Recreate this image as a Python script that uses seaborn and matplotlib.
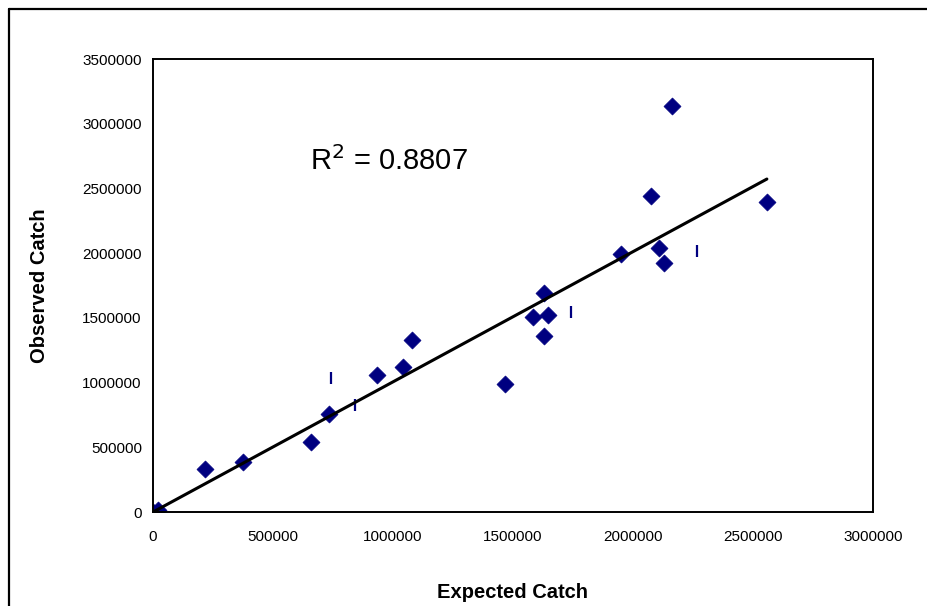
import numpy as np
import pandas as pd
import matplotlib
matplotlib.use("Agg")
import matplotlib.pyplot as plt
import seaborn as sns

# diamond series: expected vs observed catch
expected = [0, 20000, 216000, 375000, 658000, 733000, 933000, 1042000, 1079000,
            1467000, 1583000, 1629000, 1629000, 1646000, 1950000, 2075000,
            2108000, 2129000, 2163000, 2558000]
observed = [0, 15000, 332000, 386000, 541000, 757000, 1058000, 1120000, 1329000,
            989000, 1507000, 1692000, 1360000, 1522000, 1993000, 2441000,
            2040000, 1924000, 3137000, 2395000]

# points shown as small vertical dashes
dash_x = [742000, 842000, 1742000, 2267000]
dash_y = [1035000, 827000, 1545000, 2017000]

r2_label = "R$^2$ = 0.8807"

df = pd.DataFrame({"Expected Catch": expected, "Observed Catch": observed})

# linear trend through the origin over all points, drawn across the data range
x = np.array(expected + dash_x, dtype=float)
y = np.array(observed + dash_y, dtype=float)
slope = (x * y).sum() / (x * x).sum()
trend = pd.DataFrame({"x": [x.min(), x.max()]})
trend["y"] = slope * trend["x"]

sns.set_style("white")
plt.rcParams["font.family"] = ["Liberation Sans", "DejaVu Sans"]
plt.rcParams["text.color"] = "black"
plt.rcParams["axes.labelcolor"] = "black"

fig = plt.figure(figsize=(9.27, 6.06), dpi=100)
ax = fig.add_axes([0.165, 0.155, 0.7767, 0.7475])

sns.lineplot(data=trend, x="x", y="y", color="black", linewidth=2.2, ax=ax, zorder=3)
sns.scatterplot(data=df, x="Expected Catch", y="Observed Catch", marker="D", s=75,
                color="#000080", edgecolor="#000080", linewidth=0.5, ax=ax, zorder=2)
ax.plot(dash_x, dash_y, linestyle="none", marker="|", markersize=8,
        markeredgewidth=1.6, color="#000080", zorder=2)

ax.set_xlim(0, 3000000)
ax.set_ylim(0, 3500000)
ax.set_xticks(np.arange(0, 3000001, 500000))
ax.set_yticks(np.arange(0, 3500001, 500000))
ax.set_xticklabels([f"{int(v)}" for v in ax.get_xticks()])
ax.set_yticklabels([f"{int(v)}" for v in ax.get_yticks()])
ax.tick_params(axis="both", direction="out", length=5, width=1.3, labelsize=11,
               colors="black", labelcolor="black")
ax.tick_params(axis="x", pad=8)
ax.tick_params(axis="y", pad=3)
for side in ax.spines.values():
    side.set_color("black")
    side.set_linewidth(1.4)

ax.set_xlabel("Expected Catch", fontsize=14.5, fontweight="bold", labelpad=28,
              color="black")
ax.set_ylabel("Observed Catch", fontsize=14.5, fontweight="bold", labelpad=24,
              color="black")

ax.text(0.218, 0.755, r2_label, transform=ax.transAxes, fontsize=21, color="black")

# outer chart frame (top and left edges visible)
fig.add_artist(plt.Line2D([9/927, 9/927], [1 - 9/606, 0], transform=fig.transFigure,
                          color="black", linewidth=1.6))
fig.add_artist(plt.Line2D([9/927, 1], [1 - 9/606, 1 - 9/606], transform=fig.transFigure,
                          color="black", linewidth=1.6))

fig.savefig("out.png", dpi=100)
